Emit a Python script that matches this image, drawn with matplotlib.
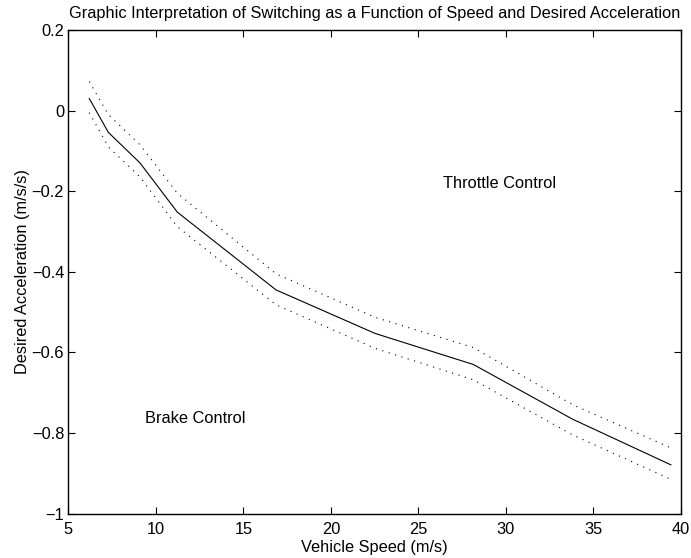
import matplotlib
matplotlib.use("Agg")
import matplotlib.pyplot as plt
from matplotlib.ticker import FuncFormatter

plt.rcParams['font.family'] = ['Liberation Sans', 'DejaVu Sans']

# switching curve (solid) and hysteresis band (dotted)
speed = [6.2, 7.29, 9.1, 11.23, 16.87, 22.53, 28.14, 33.82, 39.42]
accel_mid = [0.030, -0.054, -0.130, -0.252, -0.445, -0.553, -0.630, -0.766, -0.879]
accel_upper = [0.072, -0.010, -0.085, -0.205, -0.405, -0.513, -0.588, -0.730, -0.837]
accel_lower = [-0.005, -0.090, -0.165, -0.288, -0.482, -0.590, -0.668, -0.805, -0.915]

xticks = [5, 10, 15, 20, 25, 30, 35, 40]
yticks = [-1, -0.8, -0.6, -0.4, -0.2, 0, 0.2]

fs = 11.8

fig = plt.figure(figsize=(6.91, 5.58), dpi=100)
ax = fig.add_axes([0.0988, 0.0796, 0.8867, 0.8666])

ax.plot(speed, accel_mid, color="black", linewidth=0.8)
ax.plot(speed, accel_upper, color="black", linewidth=0.8, linestyle=(0, (1, 5)))
ax.plot(speed, accel_lower, color="black", linewidth=0.8, linestyle=(0, (1, 5)))

ax.text(26.4, -0.18, "Throttle Control", fontsize=fs, va="center", ha="left")
ax.text(9.4, -0.763, "Brake Control", fontsize=fs, va="center", ha="left")

ax.set_xlim(5, 40)
ax.set_ylim(-1, 0.2)
ax.set_xticks(xticks)
ax.set_yticks(yticks)
fmt = FuncFormatter(lambda v, pos: ("%g" % round(v, 2)).replace("-", "\u2212"))
ax.xaxis.set_major_formatter(fmt)
ax.yaxis.set_major_formatter(fmt)
ax.tick_params(direction="in", length=5, width=0.8, labelsize=fs,
               top=True, right=True)
ax.tick_params(axis="x", pad=6)
ax.tick_params(axis="y", pad=3)
for s in ax.spines.values():
    s.set_linewidth(1.0)

ax.set_xlabel("Vehicle Speed (m/s)", fontsize=fs, labelpad=2)
ax.set_ylabel("Desired Acceleration (m/s/s)", fontsize=fs, labelpad=1)
ax.set_title("Graphic Interpretation of Switching as a Function of Speed and Desired Acceleration",
             fontsize=fs, pad=9)

fig.savefig("out.png", dpi=100)
